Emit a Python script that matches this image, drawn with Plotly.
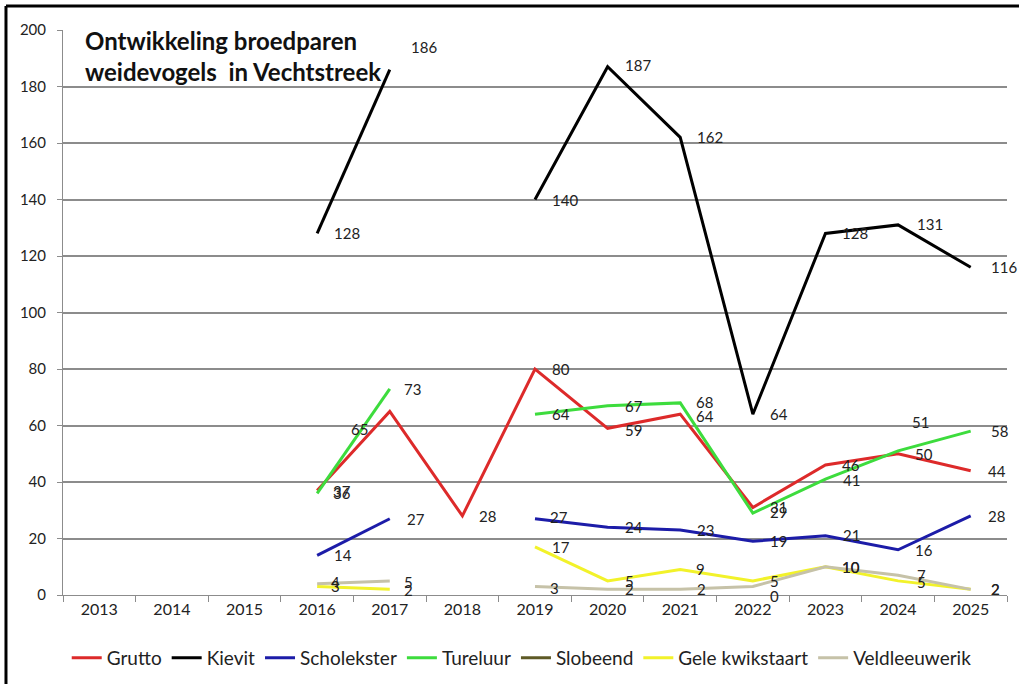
import plotly.graph_objects as go

years = ["2013", "2014", "2015", "2016", "2017", "2018", "2019", "2020", "2021", "2022", "2023", "2024", "2025"]

grutto = [None, None, None, 37, 65, 28, 80, 59, 64, 31, 46, 50, 44]
kievit = [None, None, None, 128, 186, None, 140, 187, 162, 64, 128, 131, 116]
scholekster = [None, None, None, 14, 27, None, 27, 24, 23, 19, 21, 16, 28]
tureluur = [None, None, None, 36, 73, None, 64, 67, 68, 29, 41, 51, 58]
slobeend = [None, None, None, None, None, None, None, None, None, 0, None, None, None]
gele_kwikstaart = [None, None, None, 3, 2, None, 17, 5, 9, 5, 10, 5, 2]
veldleeuwerik = [None, None, None, 4, 5, None, 3, 2, 2, 3, 10, 7, 2]

y_ticks = [0, 20, 40, 60, 80, 100, 120, 140, 160, 180, 200]

series = [
    ("Grutto", grutto, "#dd2a2a"),
    ("Kievit", kievit, "#000000"),
    ("Scholekster", scholekster, "#1c1ca8"),
    ("Tureluur", tureluur, "#3ddc3d"),
    ("Slobeend", slobeend, "#5e5a26"),
    ("Gele kwikstaart", gele_kwikstaart, "#f2f22a"),
    ("Veldleeuwerik", veldleeuwerik, "#c6c2a8"),
]

# label offsets (pixels): (xshift, yshift) per series / year index; default (15, 0)
label_offsets = {
    "Grutto": {3: (14, -1), 4: (-41, -18), 7: (15, -2), 8: (14, -2), 9: (15, 0)},
    "Kievit": {4: (19, 23), 7: (15, 2), 11: (17, 1), 12: (18, 0)},
    "Scholekster": {6: (13, 2), 10: (16, 1)},
    "Tureluur": {3: (14, 0), 4: (12, 0), 8: (14, 1), 9: (15, 1), 10: (16, -1), 11: (12, 29), 12: (18, 0)},
    "Gele kwikstaart": {3: (12, 1), 4: (12, -1), 8: (14, 1), 11: (17, -1), 12: (18, 0)},
    "Veldleeuwerik": {3: (12, 2), 4: (12, -1), 6: (13, -1), 11: (17, 0), 12: (18, 0)},
    "Slobeend": {9: (15, -1)},
}
hidden = {"Veldleeuwerik": {9}}

fig = go.Figure()
annotations = []
for name, vals, color in series:
    fig.add_trace(go.Scatter(
        x=years, y=vals, name=name, mode="lines",
        line=dict(color=color, width=3),
        connectgaps=False,
    ))
    for i, v in enumerate(vals):
        if v is None or i in hidden.get(name, set()):
            continue
        dx, dy = label_offsets.get(name, {}).get(i, (15, 0))
        annotations.append(dict(
            x=years.index(years[i]), y=v, xref="x", yref="y", text=str(v), showarrow=False,
            xanchor="left", yanchor="middle", xshift=dx, yshift=dy,
            font=dict(family="Lato, sans-serif", size=15, color="#222222")))

annotations.append(dict(
    text="<b>Ontwikkeling broedparen<br>weidevogels  in Vechtstreek</b>",
    xref="paper", yref="paper", x=0.021, y=1.01, xanchor="left", yanchor="top",
    showarrow=False, align="left",
    font=dict(family="Lato, sans-serif", size=24, color="#111111")))

fig.update_layout(
    width=1019, height=684,
    margin=dict(l=63, r=12, t=30, b=89),
    paper_bgcolor="white", plot_bgcolor="white",
    font=dict(family="Lato, sans-serif", size=15, color="#222222"),
    showlegend=True,
    legend=dict(orientation="h", xref="container", yref="container",
                x=0.512, xanchor="center", y=0.038, yanchor="middle",
                font=dict(size=19, color="#222222"), itemwidth=30, tracegroupgap=0,
                traceorder="normal"),
    xaxis=dict(type="category", categoryorder="array", categoryarray=years,
               range=[-0.5, 12.5], showgrid=False, showline=True, linecolor="#8c8c8c",
               linewidth=1, ticks="outside", tickson="boundaries", ticklen=6,
               tickcolor="#8c8c8c", tickfont=dict(size=16, color="#222222"),
               zeroline=False, automargin=False),
    yaxis=dict(range=[0, 200], tickvals=y_ticks, showgrid=True, gridcolor="#8c8c8c",
               gridwidth=2, showline=True, linecolor="#8c8c8c", linewidth=1,
               ticks="outside", ticklen=5, tickcolor="#8c8c8c", ticklabelstandoff=8,
               tickfont=dict(size=15, color="#222222"), zeroline=False, automargin=False),
    annotations=annotations,
    shapes=[
        dict(type="line", xref="paper", yref="paper", x0=-0.0604, x1=1.02, y0=1.0425, y1=1.0425,
             line=dict(color="black", width=3)),
        dict(type="line", xref="paper", yref="paper", x0=-0.0604, x1=-0.0604, y0=1.0425, y1=-0.16,
             line=dict(color="black", width=3)),
    ],
)

fig.write_html("out.html", config={"displayModeBar": False},
               post_script="document.body.style.margin='0';")
